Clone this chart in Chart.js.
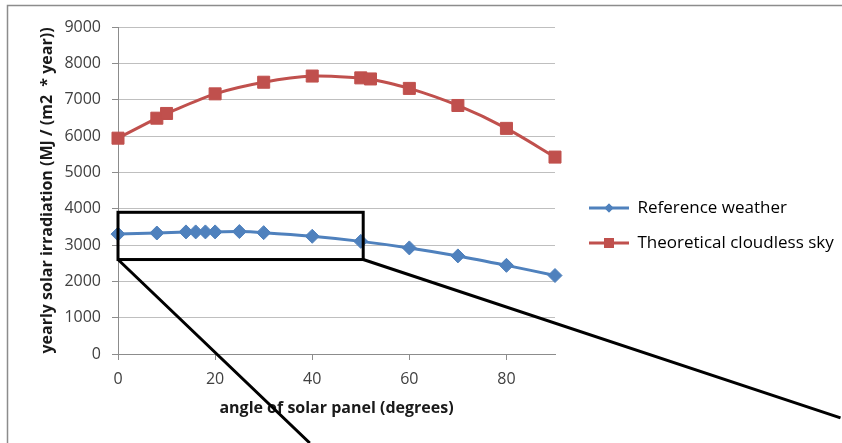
<!DOCTYPE html>
<html>
<head>
<meta charset="utf-8">
<script src="https://cdn.jsdelivr.net/npm/chart.js@4.4.1/dist/chart.umd.min.js"></script>
<style>
html, body { margin: 0; padding: 0; background: #fff; }
</style>
</head>
<body>
<canvas id="chart" width="842" height="443"></canvas>
<script>
// values
var refAngles = [0, 8, 14, 16, 18, 20, 25, 30, 40, 50, 60, 70, 80, 90];
var refValues = [3300, 3330, 3360, 3360, 3360, 3360, 3370, 3340, 3240, 3100, 2920, 2700, 2440, 2160];
var skyAngles = [0, 8, 10, 20, 30, 40, 50, 52, 60, 70, 80, 90];
var skyValues = [5940, 6490, 6620, 7160, 7480, 7650, 7600, 7570, 7310, 6840, 6210, 5420];
var seriesNames = ['Reference weather', 'Theoretical cloudless sky'];
var xTitle = 'angle of solar panel (degrees)';
var yTitle = 'yearly solar irradiation (MJ / (m2  * year))';

// the "zoom" box drawn on top of the chart, in data units
var zoomBox = {xMin: 0, xMax: 50.5, yMin: 2600, yMax: 3900};
var leaderEnds = [{x: 39.5, y: -2450}, {x: 148.8, y: -1760}];

var blue = '#4F81BD';
var red = '#C0504D';
var font = '"Open Sans", sans-serif';

function toPoints(xs, ys) {
    return xs.map(function(x, i) { return {x: x, y: ys[i]}; });
}

function legendIcon(color, style, radius) {
    var c = document.createElement('canvas');
    c.width = 40;
    c.height = 14;
    var ctx = c.getContext('2d');
    ctx.strokeStyle = color;
    ctx.lineWidth = 3;
    ctx.beginPath();
    ctx.moveTo(0, 7);
    ctx.lineTo(40, 7);
    ctx.stroke();
    ctx.fillStyle = color;
    Chart.helpers.drawPoint(ctx, {pointStyle: style, radius: radius, rotation: 0, borderWidth: 0}, 20, 7);
    ctx.fill();
    return c;
}

var frame = {
    id: 'frame',
    beforeDraw: function(chart) {
        var ctx = chart.ctx;
        ctx.save();
        ctx.fillStyle = '#fff';
        ctx.fillRect(0, 0, chart.width, chart.height);
        ctx.strokeStyle = '#8c8c8c';
        ctx.lineWidth = 1.5;
        ctx.strokeRect(7.5, 5.5, chart.width + 10, chart.height + 10);
        ctx.restore();
    }
};

// legend sits a bit right of the plot and lower than chart.js would put it
var legendPlace = {
    id: 'legendPlace',
    afterLayout: function(chart) {
        var lg = chart.legend;
        lg.left = chart.chartArea.right + 16;
        lg.right = chart.width;
        var h = lg.bottom - lg.top;
        lg.top = 181.5;
        lg.bottom = lg.top + h;
    }
};

var zoomMark = {
    id: 'zoomMark',
    afterDraw: function(chart) {
        var x = chart.scales.x, y = chart.scales.y, ctx = chart.ctx;
        var l = x.getPixelForValue(zoomBox.xMin), r = x.getPixelForValue(zoomBox.xMax);
        var t = y.getPixelForValue(zoomBox.yMax), b = y.getPixelForValue(zoomBox.yMin);
        ctx.save();
        ctx.strokeStyle = '#000';
        ctx.lineWidth = 3;
        ctx.strokeRect(l, t, r - l, b - t);
        ctx.beginPath();
        ctx.moveTo(l, b);
        ctx.lineTo(x.getPixelForValue(leaderEnds[0].x), y.getPixelForValue(leaderEnds[0].y));
        ctx.moveTo(r, b);
        ctx.lineTo(x.getPixelForValue(leaderEnds[1].x), y.getPixelForValue(leaderEnds[1].y));
        ctx.stroke();
        ctx.restore();
    }
};

new Chart(document.getElementById('chart'), {
    type: 'line',
    data: {
        datasets: [
            {
                label: seriesNames[0],
                data: toPoints(refAngles, refValues),
                borderColor: blue,
                backgroundColor: blue,
                borderWidth: 3,
                pointStyle: 'rectRot',
                pointRadius: 7,
                pointBorderWidth: 1,
                tension: 0.3,
                clip: false
            },
            {
                label: seriesNames[1],
                data: toPoints(skyAngles, skyValues),
                borderColor: red,
                backgroundColor: red,
                borderWidth: 3,
                pointStyle: 'rect',
                pointRadius: 8.5,
                pointBorderWidth: 1,
                tension: 0.3,
                clip: false
            }
        ]
    },
    options: {
        responsive: false,
        animation: false,
        layout: {padding: {left: 38, top: 27, right: 187, bottom: 25}},
        scales: {
            x: {
                type: 'linear',
                min: 0,
                max: 90,
                afterFit: function(s) { s.height = 64; },
                ticks: {stepSize: 20, includeBounds: false, padding: 10, color: '#404040', font: {family: font, size: 16}},
                grid: {drawOnChartArea: false, tickLength: 6, color: '#8c8c8c'},
                border: {color: '#8c8c8c'},
                title: {display: true, text: xTitle, color: '#1a1a1a', padding: 0, font: {family: font, size: 16, weight: 'bold'}}
            },
            y: {
                min: 0,
                max: 9000,
                afterFit: function(s) { s.width = 80; },
                ticks: {
                    stepSize: 1000,
                    padding: 11,
                    color: '#404040',
                    font: {family: font, size: 16},
                    callback: function(v) { return String(v); }
                },
                grid: {color: '#bfbfbf', tickLength: 6, tickColor: '#8c8c8c'},
                border: {color: '#8c8c8c'},
                title: {display: true, text: yTitle, color: '#1a1a1a', padding: 0, font: {family: font, size: 16, weight: 'bold'}}
            }
        },
        plugins: {
            tooltip: {enabled: false},
            legend: {
                position: 'right',
                align: 'start',
                maxWidth: 100,
                labels: {
                    usePointStyle: true,
                    pointStyleWidth: 40,
                    padding: 18,
                    color: '#262626',
                    font: {family: font, size: 17},
                    generateLabels: function(chart) {
                        return [
                            {text: seriesNames[0], pointStyle: legendIcon(blue, 'rectRot', 4.5), datasetIndex: 0, lineWidth: 0, strokeStyle: blue, fillStyle: blue},
                            {text: seriesNames[1], pointStyle: legendIcon(red, 'rect', 7), datasetIndex: 1, lineWidth: 0, strokeStyle: red, fillStyle: red}
                        ];
                    }
                }
            }
        }
    },
    plugins: [frame, legendPlace, zoomMark]
});
</script>
</body>
</html>
